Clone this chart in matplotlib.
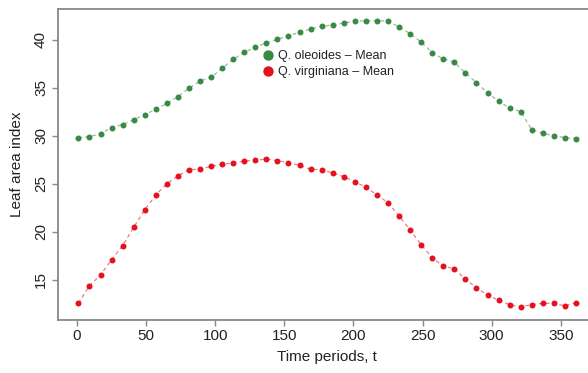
import numpy as np
import matplotlib
matplotlib.use('Agg')
import matplotlib.pyplot as plt
from matplotlib.lines import Line2D

# 8-day periods, t = 1, 9, ..., 361
t = np.arange(1, 362, 8)

oleoides = [29.79, 29.90, 30.21, 30.83, 31.15, 31.67, 32.19, 32.75, 33.38, 34.06,
            34.94, 35.70, 36.08, 37.02, 37.96, 38.69, 39.21, 39.69, 40.04, 40.42,
            40.77, 41.11, 41.40, 41.53, 41.74, 41.92, 41.98, 41.98, 41.95, 41.32,
            40.63, 39.76, 38.65, 37.99, 37.65, 36.56, 35.52, 34.48, 33.58, 32.89,
            32.50, 30.63, 30.25, 30.00, 29.79, 29.69]
virginiana = [12.54, 14.37, 15.49, 17.08, 18.54, 20.46, 22.29, 23.82, 25.00, 25.83,
              26.46, 26.50, 26.81, 27.02, 27.16, 27.36, 27.44, 27.57, 27.40, 27.19,
              26.92, 26.50, 26.46, 26.11, 25.73, 25.21, 24.63, 23.82, 23.02, 21.64,
              20.18, 18.65, 17.29, 16.40, 16.15, 15.04, 14.14, 13.41, 12.85, 12.40,
              12.16, 12.40, 12.54, 12.54, 12.26, 12.60]

labels = ['Q. oleoides \u2013 Mean', 'Q. virginiana \u2013 Mean']
colors = ['#3a8a46', '#e3121e']
xticks = [0, 50, 100, 150, 200, 250, 300, 350]
yticks = [15, 20, 25, 30, 35, 40]

plt.rcParams['font.family'] = ['Liberation Sans', 'DejaVu Sans']

W, H = 588, 373
fig = plt.figure(figsize=(W / 100, H / 100), dpi=100)
# right edge of the box lies outside the picture, as in the reference
ax = fig.add_axes([57.7 / W, (H - 319.5) / H, (596 - 57.7) / W, (319.5 - 9) / H])

for vals, c in zip([oleoides, virginiana], colors):
    ax.plot(t, vals, color=c, lw=0.9, alpha=0.55, ls=(0, (3, 2.5)))
    ax.plot(t, vals, 'o', color=c, ms=4.3, mec='none')

ax.set_xlim(-14.0, 375.5)
ax.set_ylim(10.85, 43.2)
ax.set_xticks(xticks)
ax.set_yticks(yticks)
ax.tick_params(direction='out', length=4, width=1, color='#888888',
               labelsize=11, labelcolor='#222222', pad=3)
for lab in ax.get_yticklabels():
    lab.set_rotation(90)
    lab.set_va('center')
for s in ['left', 'bottom', 'top']:
    ax.spines[s].set_color('#888888')
    ax.spines[s].set_linewidth(1.3)
ax.spines['right'].set_visible(False)

ax.set_xlabel('Time periods, t', fontsize=11, color='#222222', labelpad=5)
ax.set_ylabel('Leaf area index', fontsize=11, color='#222222', labelpad=7)

handles = [Line2D([], [], ls='none', marker='o', ms=7.5, color=c, mec='none') for c in colors]
ax.legend(handles, labels, loc='upper left', bbox_to_anchor=(255 / W, 1 - 44 / H),
          bbox_transform=fig.transFigure, frameon=False, fontsize=9, borderpad=0,
          handlelength=1.0, handletextpad=0.35, labelspacing=0.32,
          labelcolor='#222222', numpoints=1)

fig.savefig('out.png', dpi=100)
